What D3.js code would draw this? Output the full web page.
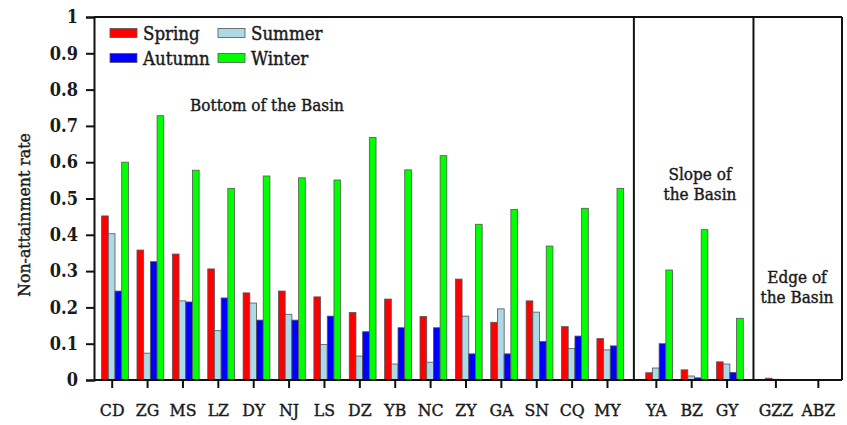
<!DOCTYPE html>
<html><head><meta charset="utf-8">
<script src="https://cdn.jsdelivr.net/npm/d3@7"></script>
<style>
html,body{margin:0;padding:0;background:#fff;}
svg{display:block;}
svg text{font-family:"DejaVu Serif Condensed","DejaVu Serif",serif;font-stretch:condensed;fill:#1a1a1a;}
.heavy{stroke:#1a1a1a;stroke-width:0.4px;}
</style></head>
<body><svg id="c" width="847" height="425"></svg>
<script>
const categories = ["CD","ZG","MS","LZ","DY","NJ","LS","DZ","YB","NC","ZY","GA","SN","CQ","MY","YA","BZ","GY","GZZ","ABZ"];
const regionOf   = [0,0,0,0,0,0,0,0,0,0,0,0,0,0,0,1,1,1,2,2];
const regionNames = [["Bottom of the Basin"],["Slope of","the Basin"],["Edge of","the Basin"]];
const seriesNames = ["Spring","Summer","Autumn","Winter"];
const spring = [0.452,0.358,0.347,0.306,0.240,0.245,0.229,0.186,0.223,0.175,0.278,0.159,0.218,0.147,0.114,0.020,0.028,0.050,0.005,0];
const summer = [0.403,0.074,0.218,0.136,0.212,0.181,0.098,0.066,0.044,0.049,0.176,0.196,0.187,0.087,0.083,0.033,0.011,0.044,0.002,0];
const autumn = [0.245,0.326,0.215,0.226,0.165,0.165,0.176,0.133,0.144,0.144,0.072,0.072,0.106,0.121,0.094,0.100,0.006,0.021,0.001,0];
const winter = [0.600,0.728,0.578,0.528,0.562,0.557,0.551,0.668,0.579,0.618,0.429,0.470,0.369,0.473,0.528,0.303,0.414,0.170,0,0];
const yTicks = [0,0.1,0.2,0.3,0.4,0.5,0.6,0.7,0.8,0.9,1];
const colors = ["#ff0000","#add8e6","#0000ff","#00ff00"];

const series = [spring,summer,autumn,winter];
const svg = d3.select("#c");
const pLeft = 94, pRight = 842, pTop = 17, pBottom = 380;
// slot positions: regions separated by a gap; the edge region is spaced wider
const regionGap = 0.38, regionStep = [1,1,1.2];
const slot = [];
categories.forEach((c,i)=>{
  if(i===0) slot.push(0);
  else slot.push(slot[i-1] + (regionOf[i]!==regionOf[i-1] ? 1+regionGap : regionStep[regionOf[i]]));
});
const x = d3.scaleLinear().domain([0,14]).range([111.7,607]);
const y = d3.scaleLinear().domain([0,1]).range([pBottom,pTop]);
const bw = 6.7;

// bars
series.forEach((vals,s)=>{
  svg.append("g").selectAll("rect").data(vals).join("rect")
    .attr("x",(d,i)=> x(slot[i]) + 3.3 - 2*bw + s*bw)
    .attr("width",bw)
    .attr("y",d=>y(d))
    .attr("height",d=>pBottom - y(d))
    .attr("fill",colors[s])
    .attr("stroke","#555").attr("stroke-width",0.8);
});

// frame top/right and dividers
svg.append("line").attr("x1",pLeft).attr("x2",pRight).attr("y1",pTop).attr("y2",pTop).attr("stroke","#111").attr("stroke-width",2);
svg.append("line").attr("x1",pRight).attr("x2",pRight).attr("y1",pTop).attr("y2",pBottom).attr("stroke","#111").attr("stroke-width",2);
const dividers = [];
for(let i=1;i<categories.length;i++){ if(regionOf[i]!==regionOf[i-1]) dividers.push((slot[i]+slot[i-1])/2 + 0.07); }
dividers.forEach(d=>{
  svg.append("line").attr("x1",x(d)).attr("x2",x(d)).attr("y1",pTop).attr("y2",pBottom).attr("stroke","#111").attr("stroke-width",2);
});

// y axis
const yAxis = d3.axisLeft(y).tickValues(yTicks).tickFormat(d=> d===0?"0":d===1?"1":d3.format(".1f")(d)).tickSize(8).tickPadding(8);
const gy = svg.append("g").attr("transform",`translate(${pLeft},0)`).call(yAxis);
gy.attr("font-family",null);
gy.select(".domain").attr("stroke","#111").attr("stroke-width",2);
gy.selectAll(".tick line").attr("stroke","#111").attr("stroke-width",2);
gy.selectAll("text").style("font-size","18px").style("font-weight","bold").attr("fill","#1a1a1a");

// x axis
const xAxis = d3.axisBottom(x).tickValues(slot).tickFormat((d,i)=>categories[i]).tickSize(8).tickPadding(16).tickSizeOuter(0);
const gx = svg.append("g").attr("transform",`translate(0,${pBottom})`).call(xAxis);
gx.attr("font-family",null);
gx.select(".domain").attr("d",`M${pLeft},0H${pRight}`).attr("stroke","#111").attr("stroke-width",2);
gx.selectAll(".tick line").attr("stroke","#111").attr("stroke-width",2);
gx.selectAll("text").attr("class","heavy").style("font-size","17.5px").attr("fill","#1a1a1a");

// y label
svg.append("text").attr("class","heavy").attr("transform","translate(30,215) rotate(-90)").attr("text-anchor","middle")
  .style("font-size","17.5px").text("Non-attainment rate");

// region labels
const regionPos = [[267,111],[700,180],[797,283]];
regionNames.forEach((lines,r)=>{
  const t = svg.append("text").attr("class","heavy").attr("text-anchor","middle").style("font-size","17px");
  lines.forEach((l,k)=> t.append("tspan").attr("x",regionPos[r][0]).attr("y",regionPos[r][1]+k*19.5).text(l));
});

// legend
const legPos = [[110,33],[218,33],[110,58],[218,58]];
seriesNames.forEach((n,s)=>{
  const g = svg.append("g").attr("transform",`translate(${legPos[s][0]},${legPos[s][1]})`);
  g.append("rect").attr("x",0).attr("y",-4.5).attr("width",27).attr("height",9).attr("fill",colors[s]).attr("stroke","#555").attr("stroke-width",0.8);
  g.append("text").attr("class","heavy").attr("x",33).attr("y",6.5).style("font-size","18.5px").text(n);
});
</script></body></html>
